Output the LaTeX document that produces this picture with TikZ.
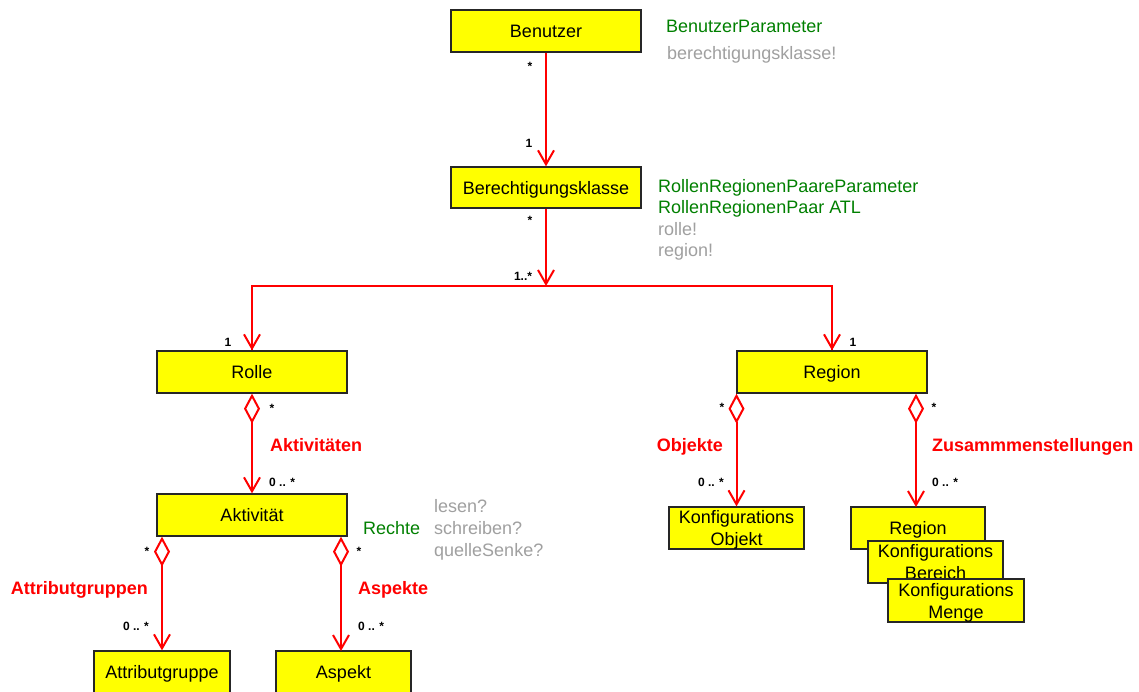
\documentclass[tikz,border=0pt]{standalone}
\usepackage{fontspec}
\setmainfont{Liberation Sans}
\usetikzlibrary{arrows.meta}
\definecolor{boxyellow}{RGB}{255,255,0}
\definecolor{umlred}{RGB}{255,0,0}
\definecolor{attrgreen}{RGB}{0,128,0}
\definecolor{attrgray}{RGB}{160,160,160}
\tikzset{
  cls/.style={draw=black!85, fill=boxyellow, line width=1.3pt, minimum height=42pt,
    inner sep=0pt, text depth=0pt, align=center, font=\fontsize{18}{22}\selectfont},
  assoc/.style={draw=umlred, line width=2pt, -{Straight Barb[length=14pt,width=16pt]}},
  aggr/.style={draw=umlred, line width=2pt,
    {Diamond[open,length=30pt,width=16pt]}-{Straight Barb[length=14pt,width=16pt]}},
  bar/.style={draw=umlred, line width=2pt},
  mult/.style={font=\fontsize{12}{14}\selectfont\bfseries, inner sep=0pt},
  rolename/.style={font=\fontsize{18}{21}\selectfont\bfseries, text=umlred, inner sep=0pt},
  attrg/.style={font=\fontsize{18}{21}\selectfont, text=attrgreen, inner sep=0pt, anchor=base west},
  attrq/.style={font=\fontsize{18}{21}\selectfont, text=attrgray, inner sep=0pt, anchor=base west},
}
\begin{document}
\begin{tikzpicture}[x=1pt,y=-1pt]
\clip (0,0) rectangle (1139,691);
\fill[white] (0,0) rectangle (1139,691);

% classes
\node[cls, minimum width=190pt] (benutzer) at (546,31) {Benutzer};
\node[cls, minimum width=190pt, minimum height=41pt] (berecht) at (546,187.5) {Berechtigungsklasse};
\node[cls, minimum width=190pt] (rolle) at (252,372) {Rolle};
\node[cls, minimum width=190pt] (region) at (832,372) {Region};
\node[cls, minimum width=190pt] (aktiv) at (252,515) {Aktivit\"at};
\node[cls, minimum width=136pt] (attrib) at (162,672) {Attributgruppe};
\node[cls, minimum width=135pt] (aspekt) at (343.5,672) {Aspekt};
\node[cls, minimum width=135pt] (kobj) at (736.5,528) {Konfigurations\\Objekt};
\node[cls, minimum width=134pt] (region2) at (918,528) {Region};
\node[cls, minimum width=135pt] (bereich) at (935.5,562) {Konfigurations\\Bereich};
\node[cls, minimum width=136pt, minimum height=43pt] (menge) at (956,600.5) {Konfigurations\\Menge};

% connectors
\coordinate (junction) at (546,286);
\coordinate (aspin) at (341,651);
\coordinate (reg2in) at (916,507);
\draw[assoc] (benutzer) -- (berecht);
\draw[assoc] (berecht) -- (junction);
\draw[bar] (junction) -| (rolle.north);
\draw[bar] (junction) -| (region.north);
\draw[assoc] (rolle.north |- junction) -- (rolle.north);
\draw[assoc] (region.north |- junction) -- (region.north);
\draw[aggr] (rolle.south) -- (aktiv.north);
\draw[aggr] (aktiv.south -| attrib.north) -- (attrib.north);
\draw[aggr] (aktiv.south -| aspin) -- (aspin);
\draw[aggr] (region.south -| kobj.north) -- (kobj.north);
\draw[aggr] (region.south -| reg2in) -- (reg2in);

% multiplicities
\node[mult, anchor=base] (m1) at (530,70) {*};
\node[mult, anchor=base] (m2) at (529,147.5) {1};
\node[mult, anchor=base] (m3) at (530,224) {*};
\node[mult, anchor=base] (m4) at (523,280) {1..*};
\node[mult, anchor=base] (m5) at (228,346) {1};
\node[mult, anchor=base] (m6) at (853,346) {1};
\node[mult, anchor=base] (m7) at (272,412) {*};
\node[mult, anchor=base west] (m8) at (269,486) {0 .. *};
\node[mult, anchor=base] (m9) at (147,555) {*};
\node[mult, anchor=base] (m10) at (359,555) {*};
\node[mult, anchor=base east] (m11) at (149,630) {0 .. *};
\node[mult, anchor=base west] (m12) at (358,630) {0 .. *};
\node[mult, anchor=base] (m13) at (722,411) {*};
\node[mult, anchor=base] (m14) at (934,411) {*};
\node[mult, anchor=base east] (m15) at (724,486) {0 .. *};
\node[mult, anchor=base west] (m16) at (932,486) {0 .. *};

% role names
\node[rolename, anchor=base west] (r1) at (270,451) {Aktivit\"aten};
\node[rolename, anchor=base east] (r2) at (723,451) {Objekte};
\node[rolename, anchor=base west] (r3) at (932,451) {Zusammmenstellungen};
\node[rolename, anchor=base east] (r4) at (148,594) {Attributgruppen};
\node[rolename, anchor=base west] (r5) at (358,594) {Aspekte};

% attributes
\node[attrg] (a1) at (666,32) {BenutzerParameter};
\node[attrq] (a2) at (667,59) {berechtigungsklasse!};
\node[attrg] (a3) at (658,192) {RollenRegionenPaareParameter};
\node[attrg] (a4) at (658,213.5) {RollenRegionenPaar ATL};
\node[attrq] (a5) at (658,235) {rolle!};
\node[attrq] (a6) at (658,256.5) {region!};
\node[attrg] (a7) at (363,534) {Rechte};
\node[attrq] (a8) at (434,512) {lesen?};
\node[attrq] (a9) at (434,534) {schreiben?};
\node[attrq] (a10) at (434,556) {quelleSenke?};
\end{tikzpicture}
\end{document}
